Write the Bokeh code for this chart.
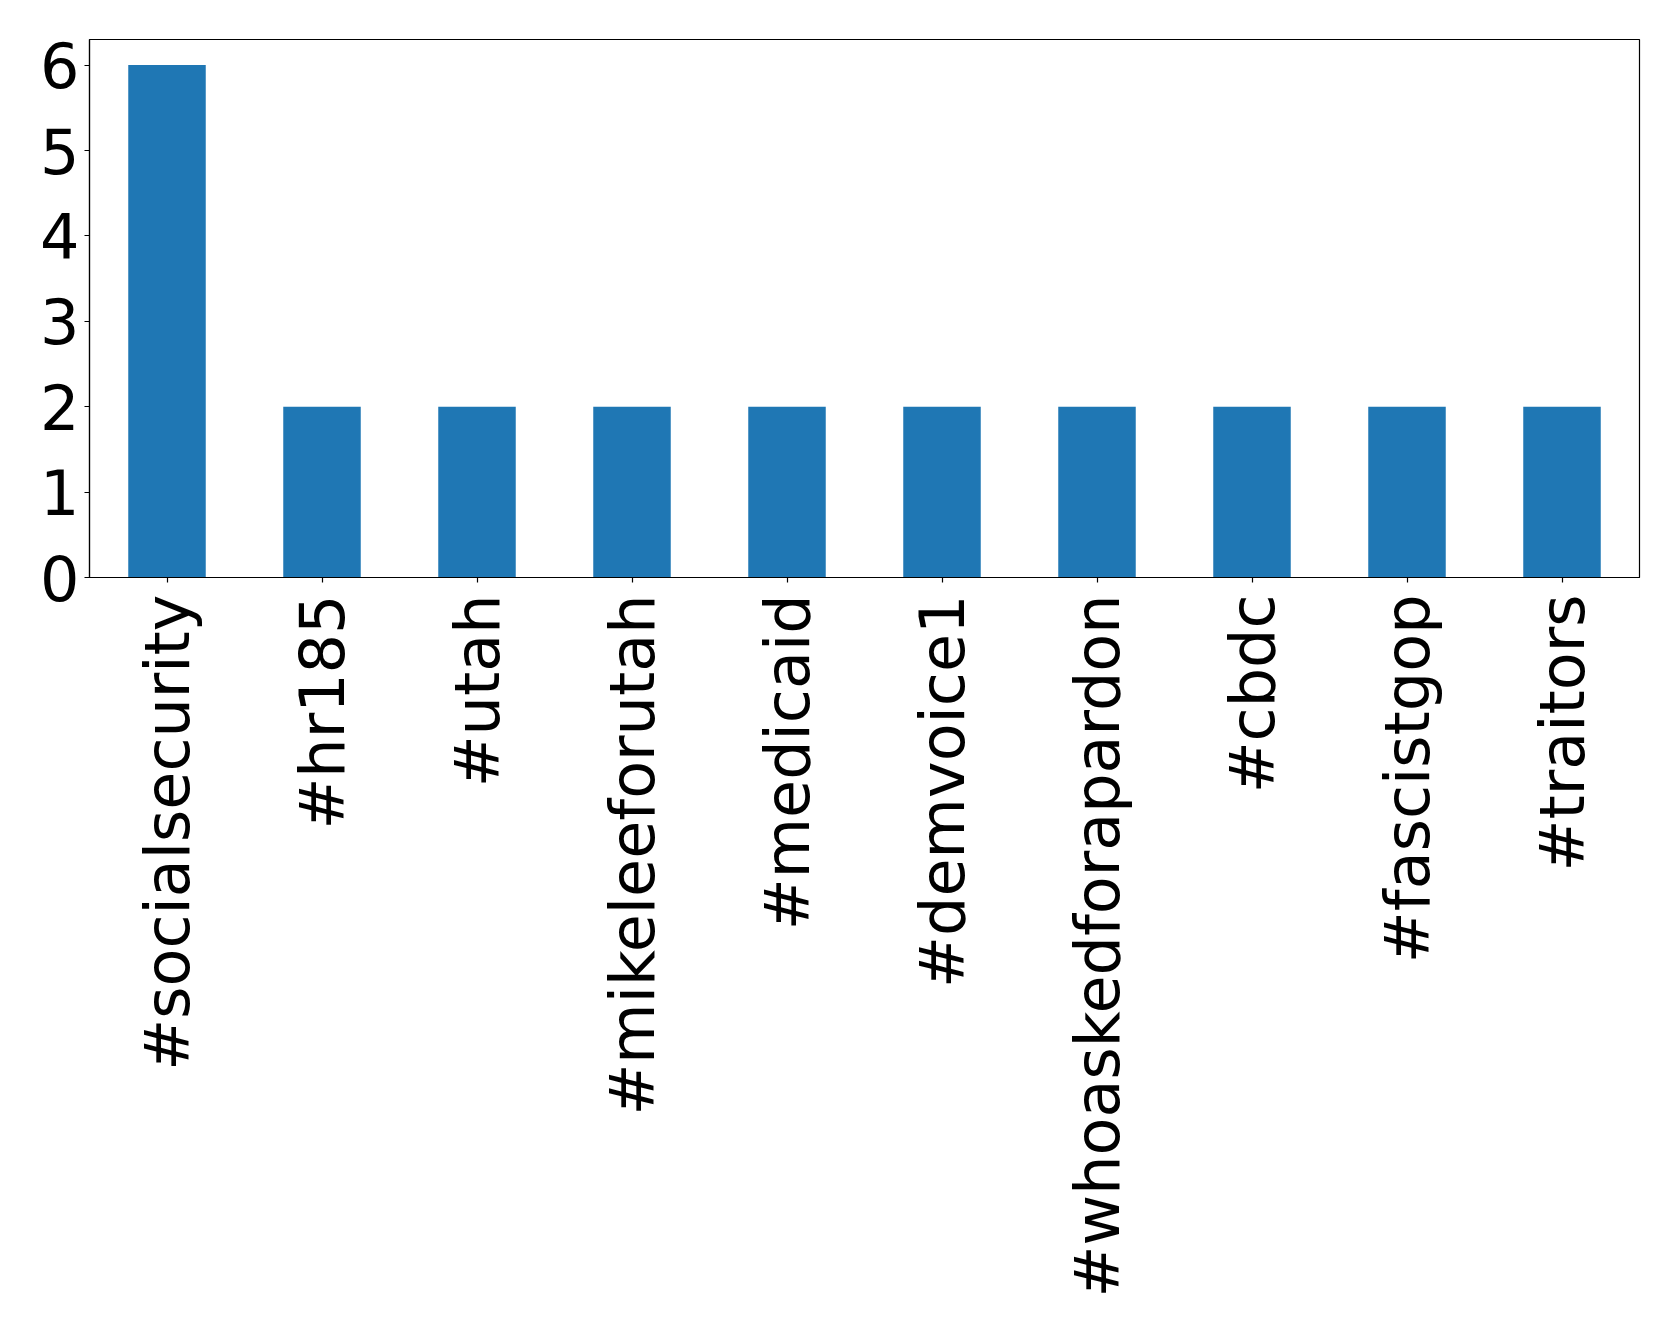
import math
from bokeh.plotting import figure
from bokeh.models import ColumnDataSource, FactorRange, Range1d
from bokeh.embed import file_html
from bokeh.resources import INLINE

hashtags = ["#socialsecurity", "#hr185", "#utah", "#mikeleeforutah", "#medicaid",
            "#demvoice1", "#whoaskedforapardon", "#cbdc", "#fascistgop", "#traitors"]
counts = [6, 2, 2, 2, 2, 2, 2, 2, 2, 2]
y_ticks = [0, 1, 2, 3, 4, 5, 6]

src = ColumnDataSource(data=dict(tag=hashtags, count=counts))

p = figure(
    x_range=FactorRange(factors=hashtags, range_padding=0),
    y_range=Range1d(0, 6.3),
    frame_width=1550, frame_height=538,
    min_border_left=89, min_border_right=31, min_border_top=39, min_border_bottom=10,
    output_backend="svg", toolbar_location=None,
    background_fill_color="white", border_fill_color="white",
)

p.vbar(x="tag", top="count", width=0.5, source=src, color="#1f77b4", line_color=None)

p.xgrid.visible = False
p.ygrid.visible = False
p.outline_line_color = "black"
p.outline_line_width = 1.2

for ax in (p.xaxis, p.yaxis):
    ax.major_label_text_font = "DejaVu Sans"
    ax.major_label_text_font_size = "62px"
    ax.major_label_text_color = "black"
    ax.axis_line_color = "black"
    ax.axis_line_width = 1.2
    ax.major_tick_line_color = "black"
    ax.major_tick_line_width = 1.2
    ax.major_tick_out = 5
    ax.major_tick_in = 0
    ax.minor_tick_line_color = None

p.yaxis.ticker = y_ticks
p.yaxis.major_label_standoff = 5
p.xaxis.major_label_orientation = math.pi / 2
p.xaxis.major_label_standoff = 12

open("out.html", "w").write(file_html(p, INLINE))
